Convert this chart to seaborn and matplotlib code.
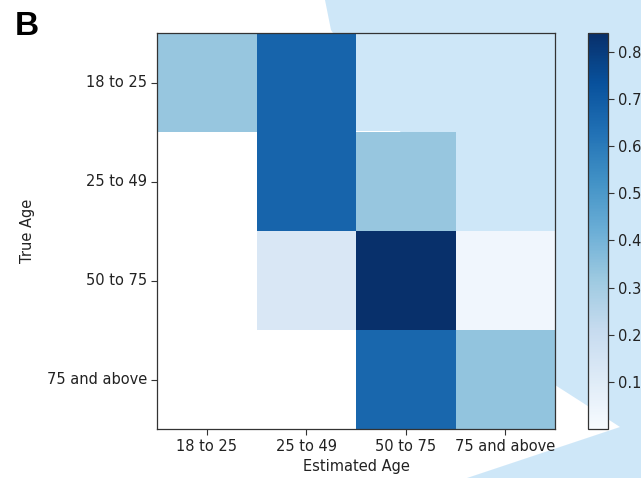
import numpy as np
import pandas as pd
import matplotlib
matplotlib.use("Agg")
import matplotlib.pyplot as plt
from matplotlib.patches import Polygon
import seaborn as sns

# Age-group confusion matrix (rows: true age, columns: estimated age), row-normalised
age_groups = ["18 to 25", "25 to 49", "50 to 75", "75 and above"]
row_18_25 = [0.33, 0.67, 0.00, 0.00]
row_25_49 = [0.00, 0.67, 0.33, 0.00]
row_50_75 = [0.00, 0.13, 0.84, 0.03]
row_75_up = [0.00, 0.00, 0.66, 0.34]
cbar_ticks = [0.1, 0.2, 0.3, 0.4, 0.5, 0.6, 0.7, 0.8]

matrix = pd.DataFrame([row_18_25, row_25_49, row_50_75, row_75_up],
                      index=age_groups, columns=age_groups)

W, H = 641, 478
fig = plt.figure(figsize=(W / 100, H / 100), dpi=100)
fig.patch.set_facecolor("white")


def fx(px):
    return px / W


def fy(py):
    return 1 - py / H


# Light blue backdrop shape behind the panel
shape_px = [(325, 0), (331, 30), (333, 33), (340, 131), (400, 131),
            (450, 228), (500, 300), (530, 362), (555, 385), (580, 401),
            (620, 427), (467, 478), (641, 478), (641, 0)]
backdrop = Polygon([(fx(x), fy(y)) for x, y in shape_px], closed=True,
                   transform=fig.transFigure, facecolor="#cee7f8",
                   edgecolor="none", zorder=-5)
fig.patches.append(backdrop)

ax = fig.add_axes([fx(157), fy(429), fx(555) - fx(157), fy(33) - fy(429)])
cax = fig.add_axes([fx(588), fy(429), fx(608) - fx(588), fy(33) - fy(429)])
ax.patch.set_alpha(0)
cax.patch.set_alpha(0)

sns.heatmap(matrix, mask=(matrix.values == 0), cmap="Blues", vmin=0.0, vmax=0.84,
            ax=ax, cbar_ax=cax, square=False, linewidths=0,
            cbar_kws={"ticks": cbar_ticks})

for side in ["top", "bottom", "left", "right"]:
    ax.spines[side].set_visible(True)
    ax.spines[side].set_color("#333333")
    ax.spines[side].set_linewidth(0.9)

ax.tick_params(axis="both", length=4, width=0.8, color="#333333",
               labelsize=10.5, labelcolor="#222222", pad=3)
ax.set_xticklabels(age_groups, rotation=0)
ax.set_yticklabels(age_groups, rotation=0)
ax.set_xlabel("Estimated Age", fontsize=10.5, color="#222222", labelpad=4)
ax.set_ylabel("True Age", fontsize=10.5, color="#222222", labelpad=9)

cbar = ax.collections[0].colorbar
cbar.outline.set_visible(True)
cbar.outline.set_linewidth(0.9)
cbar.outline.set_edgecolor("#333333")
cbar.ax.tick_params(length=4, width=0.8, color="#333333", labelsize=10.5,
                    labelcolor="#222222", pad=3)

fig.text(fx(15), fy(35), "B", fontsize=24, fontweight="bold",
         family=["Liberation Sans", "DejaVu Sans"], color="black")

fig.savefig("out.png", dpi=100, facecolor=fig.get_facecolor())
